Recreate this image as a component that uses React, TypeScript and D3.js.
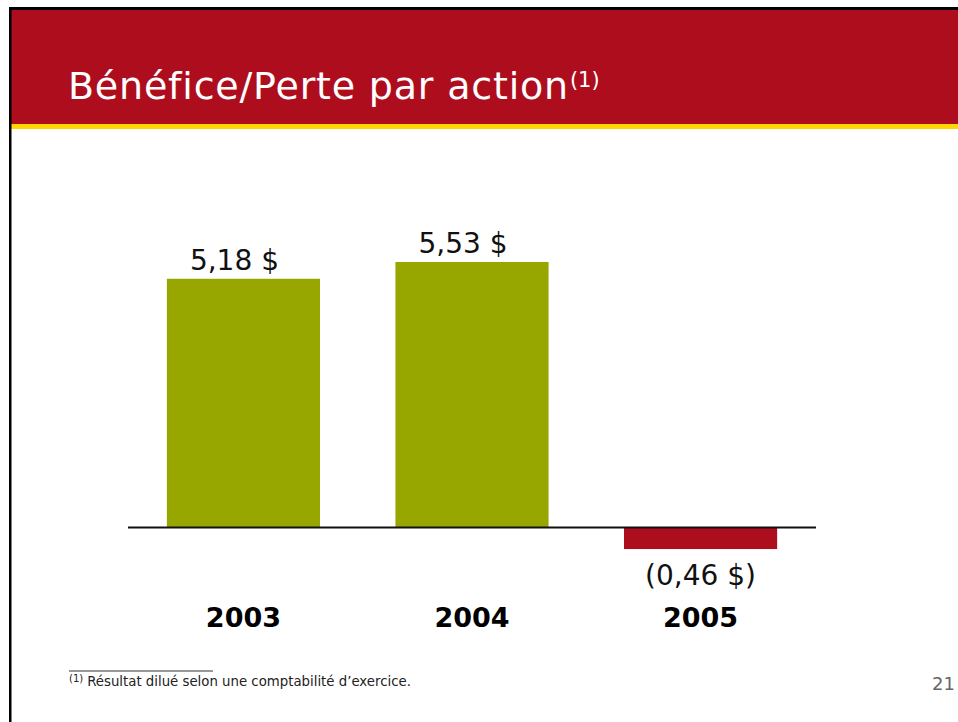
import * as d3 from 'd3';
import React, { useRef, useEffect } from 'react';

const years = ['2003', '2004', '2005'];
const eps = [5.18, 5.53, -0.46];
const valueLabels = ['5,18 $', '5,53 $', '(0,46 $)'];

const width = 958;
const height = 722;
const font = '"DejaVu Sans", Verdana, sans-serif';
const red = '#ae0d1e';
const green = '#97a700';

function EpsChart() {
  const ref = useRef<SVGSVGElement>(null);

  useEffect(() => {
    draw();
  }, []);

  const draw = () => {
    const svg = d3.select(ref.current);
    svg.selectAll('*').remove();

    // slide frame
    svg.append('rect').attr('x', 0).attr('y', 0).attr('width', width).attr('height', height).attr('fill', '#fff');
    svg.append('rect').attr('x', 11).attr('y', 10).attr('width', width - 11).attr('height', 114).attr('fill', red);
    svg.append('rect').attr('x', 11).attr('y', 124).attr('width', width - 11).attr('height', 5).attr('fill', '#ffd700');
    svg.append('rect').attr('x', 9).attr('y', 7).attr('width', width - 9).attr('height', 3).attr('fill', '#000');
    svg.append('rect').attr('x', 9).attr('y', 7).attr('width', 2.5).attr('height', height - 7).attr('fill', '#000');

    const title = svg.append('text')
      .attr('x', 68)
      .attr('y', 99)
      .attr('fill', '#fff')
      .style('font-family', font)
      .style('font-size', '38px')
      .style('letter-spacing', '0.8px');
    title.append('tspan').text('Bénéfice/Perte par action');
    title.append('tspan').attr('dx', 1).attr('dy', -12).style('font-size', '21px').style('letter-spacing', '0px').text('(1)');

    const xScale = d3.scaleBand()
      .domain(years)
      .range([128, 816])
      .paddingInner(0.33)
      .paddingOuter(0.17);

    const yScale = d3.scaleLinear()
      .domain([0, 5.53])
      .range([527, 262]);

    const data = years.map((y, i) => ({ year: y, value: eps[i], label: valueLabels[i] }));

    const chart = svg.append('g');

    chart.selectAll('rect.bar')
      .data(data)
      .enter()
      .append('rect')
      .attr('class', 'bar')
      .attr('x', (d) => xScale(d.year))
      .attr('y', (d) => yScale(Math.max(0, d.value)))
      .attr('width', xScale.bandwidth())
      .attr('height', (d) => Math.abs(yScale(d.value) - yScale(0)))
      .attr('fill', (d) => (d.value < 0 ? red : green));

    chart.append('line')
      .attr('x1', 128)
      .attr('x2', 816)
      .attr('y1', yScale(0) + 0.5)
      .attr('y2', yScale(0) + 0.5)
      .attr('stroke', '#111')
      .attr('stroke-width', 1.8);

    chart.selectAll('text.value')
      .data(data)
      .enter()
      .append('text')
      .attr('class', 'value')
      .attr('x', (d) => xScale(d.year) + xScale.bandwidth() / 2 + (d.value < 0 ? 0 : -9))
      .attr('y', (d) => (d.value < 0 ? yScale(d.value) + 36 : yScale(d.value) - 9))
      .attr('text-anchor', 'middle')
      .attr('fill', '#111')
      .style('font-family', font)
      .style('font-size', '28px')
      .text((d) => d.label);

    chart.selectAll('text.year')
      .data(data)
      .enter()
      .append('text')
      .attr('class', 'year')
      .attr('x', (d) => xScale(d.year) + xScale.bandwidth() / 2)
      .attr('y', 627)
      .attr('text-anchor', 'middle')
      .attr('fill', '#000')
      .style('font-family', font)
      .style('font-size', '27px')
      .style('font-weight', 'bold')
      .text((d) => d.year);

    // footnote
    svg.append('line')
      .attr('x1', 69).attr('x2', 213)
      .attr('y1', 671).attr('y2', 671)
      .attr('stroke', '#333').attr('stroke-width', 1);

    const note = svg.append('text')
      .attr('x', 69)
      .attr('y', 686)
      .attr('fill', '#222')
      .style('font-family', font)
      .style('font-size', '13.3px');
    note.append('tspan').attr('dy', -4).style('font-size', '10px').text('(1)');
    note.append('tspan').attr('dx', 4).attr('dy', 4).text('Résultat dilué selon une comptabilité d’exercice.');

    svg.append('text')
      .attr('x', 955)
      .attr('y', 690)
      .attr('text-anchor', 'end')
      .attr('fill', '#666')
      .style('font-family', font)
      .style('font-size', '18px')
      .text('21');
  };

  return (
    <svg ref={ref} width={width} height={height} style={{ position: 'absolute', left: 0, top: 0 }}>
    </svg>
  );
}

export default function App() {
  return <EpsChart />;
}
